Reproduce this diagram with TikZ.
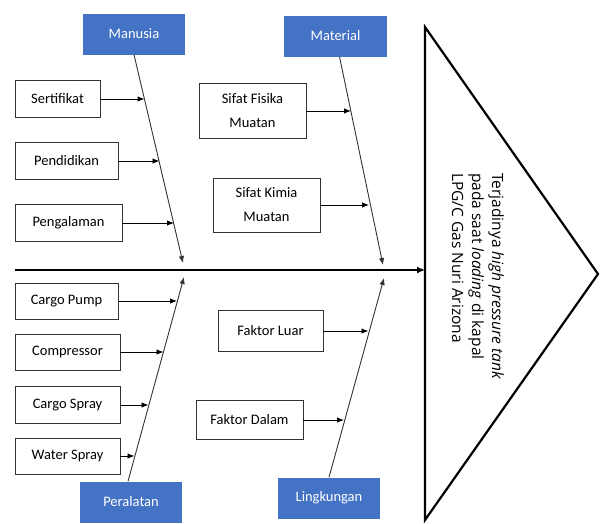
\documentclass[tikz,border=0pt]{standalone}
\usepackage{fontspec}
\setmainfont{Carlito}
\newfontfamily\efffont{Open Sans}
\usetikzlibrary{arrows.meta}
\definecolor{catblue}{HTML}{4472C4}
\definecolor{linegray}{HTML}{333333}
\begin{document}
\begin{tikzpicture}[x=1pt,y=-1pt,
  cat/.style={fill=catblue, text=white, minimum height=41pt, inner sep=0pt,
    font=\fontsize{14.5}{16}\selectfont},
  sub/.style={draw=linegray, line width=0.9pt, inner sep=0pt, align=center,
    font=\fontsize{14.5}{24}\selectfont},
  bone/.style={draw=linegray, line width=0.9pt, -{Latex[length=7pt,width=5.5pt]}},
  twig/.style={draw=black, line width=0.9pt, -{Latex[length=7pt,width=5.5pt]}},
  spine/.style={draw=black, line width=2.2pt, -{Latex[length=8pt,width=7pt]}},
  head/.style={draw=black, line width=2.2pt, line join=miter}
]
\useasboundingbox (0,0) rectangle (600,523);

% category boxes
\node[cat, minimum width=102pt] (man) at (134,34) {Manusia};
\node[cat, minimum width=103pt] (mat) at (335.5,36) {Material};
\node[cat, minimum width=102pt] (per) at (131,502) {Peralatan};
\node[cat, minimum width=102pt] (lin) at (329,498) {Lingkungan};

% sub-cause boxes
\node[sub, minimum width=85pt,  minimum height=37pt] (sert) at (57.5,99)  {Sertifikat};
\node[sub, minimum width=103pt, minimum height=37pt] (pend) at (66.5,161) {Pendidikan};
\node[sub, minimum width=107pt, minimum height=37pt] (peng) at (68.5,223) {Pengalaman};
\node[sub, minimum width=107pt, minimum height=55pt] (fis)  at (252.5,111) {Sifat Fisika\\Muatan};
\node[sub, minimum width=107pt, minimum height=54pt] (kim)  at (266.5,205) {Sifat Kimia\\Muatan};
\node[sub, minimum width=103pt, minimum height=36pt] (cp)   at (66.5,301) {Cargo Pump};
\node[sub, minimum width=105pt, minimum height=36pt] (comp) at (67.5,352) {Compressor};
\node[sub, minimum width=105pt, minimum height=37pt] (cs)   at (67.5,405) {Cargo Spray};
\node[sub, minimum width=105pt, minimum height=36pt] (ws)   at (67.5,456) {Water Spray};
\node[sub, minimum width=105pt, minimum height=41pt] (luar) at (270.5,331) {Faktor Luar};
\node[sub, minimum width=107pt, minimum height=39pt] (dal)  at (249.5,420) {Faktor Dalam};

% head (effect)
\coordinate (hA) at (425,27);
\coordinate (hB) at (598,274);
\coordinate (hC) at (425,520);
\draw[head] (hA) -- (hB) -- (hC) -- cycle;
\node[rotate=-90, anchor=north west, inner sep=0pt, align=left,
  font=\efffont\fontsize{15.5}{20}\selectfont] (eff) at (504,173)
  {Terjadinya \textit{high pressure tank}\\pada saat \textit{loading} di kapal\\LPG/C Gas Nuri Arizona};

% spine
\coordinate (spS) at (15,270);
\coordinate (spE) at (425,270);
\draw[spine] (spS) -- (spE);

% bone end points
\coordinate (manE) at (183,263);
\coordinate (matE) at (383,265);
\coordinate (perE) at (184,277);
\coordinate (linE) at (384,278);
\draw[bone] (man.south) -- (manE);
\draw[bone] ([xshift=4pt]mat.south) -- (matE);
\draw[bone] ([xshift=-3pt]per.north) -- (perE);
\draw[bone] (lin.north) -- (linE);

% twig tips
\coordinate (t1) at (144.5,99);
\coordinate (t2) at (159.5,161);
\coordinate (t3) at (174,223);
\coordinate (t4) at (351,111);
\coordinate (t5) at (369,205);
\coordinate (t6) at (177,301);
\coordinate (t7) at (163.5,352);
\coordinate (t8) at (148.5,405);
\coordinate (t9) at (134.5,456);
\coordinate (t10) at (368.5,331);
\coordinate (t11) at (344,420);
\draw[twig] (sert) -- (t1);
\draw[twig] (pend) -- (t2);
\draw[twig] (peng) -- (t3);
\draw[twig] (fis) -- (t4);
\draw[twig] (kim) -- (t5);
\draw[twig] (cp) -- (t6);
\draw[twig] (comp) -- (t7);
\draw[twig] (cs) -- (t8);
\draw[twig] (ws) -- (t9);
\draw[twig] (luar) -- (t10);
\draw[twig] (dal) -- (t11);
\end{tikzpicture}
\end{document}
